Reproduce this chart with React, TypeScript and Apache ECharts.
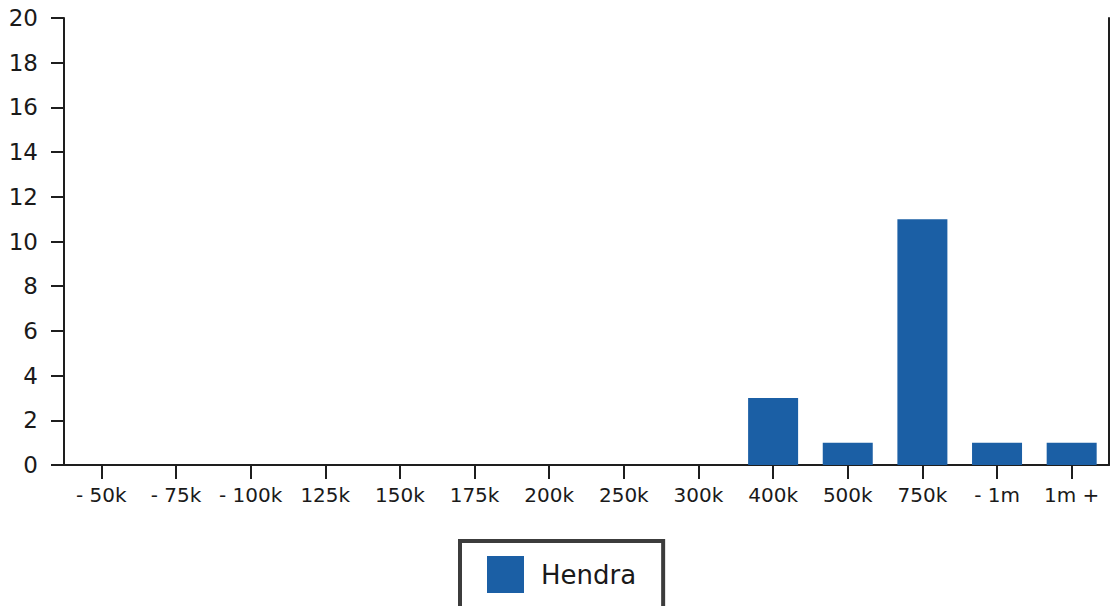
import React, { useEffect, useRef } from "react";
import * as echarts from "echarts";

const categories = [
  "- 50k", "- 75k", "- 100k", "125k", "150k", "175k", "200k",
  "250k", "300k", "400k", "500k", "750k", "- 1m", "1m +",
];
const hendra = [0, 0, 0, 0, 0, 0, 0, 0, 0, 3, 1, 11, 1, 1];
const seriesName = "Hendra";

export default function App() {
  const ref = useRef<HTMLDivElement>(null);
  useEffect(() => {
    if (!ref.current) return;
    const chart = echarts.init(ref.current, null, { renderer: "svg" });
    const font = "DejaVu Sans";
    chart.setOption({
      animation: false,
      backgroundColor: "#ffffff",
      grid: { left: 64, right: 3, top: 18, bottom: 141, containLabel: false },
      legend: {
        data: [seriesName],
        left: 460,
        top: 541,
        padding: [15, 27, 20, 27],
        backgroundColor: "#ffffff",
        borderColor: "#3c3c3c",
        borderWidth: 4,
        borderRadius: 0,
        itemWidth: 37,
        itemHeight: 37,
        icon: "rect",
        itemStyle: { borderWidth: 0 },
        textStyle: {
          fontFamily: font,
          fontSize: 26,
          color: "#1a1a1a",
          padding: [0, 0, 0, 12],
        },
        selectedMode: false,
      },
      xAxis: {
        type: "category",
        data: categories,
        boundaryGap: true,
        axisLine: { show: true, lineStyle: { color: "#1e1e1e", width: 2 } },
        axisTick: {
          show: true,
          alignWithLabel: true,
          length: 14,
          lineStyle: { color: "#1e1e1e", width: 2 },
        },
        axisLabel: {
          interval: 0,
          margin: 20,
          fontFamily: font,
          fontSize: 20,
          color: "#1a1a1a",
        },
        splitLine: { show: false },
      },
      yAxis: [
        {
          type: "value",
          min: 0,
          max: 20,
          interval: 2,
          axisLine: { show: true, lineStyle: { color: "#1e1e1e", width: 2 } },
          axisTick: { show: true, length: 13, lineStyle: { color: "#1e1e1e", width: 2 } },
          axisLabel: {
            margin: 26,
            fontFamily: font,
            fontSize: 23,
            color: "#1a1a1a",
          },
          splitLine: { show: false },
        },
        {
          type: "value",
          min: 0,
          max: 20,
          interval: 2,
          position: "right",
          axisLine: { show: true, lineStyle: { color: "#1e1e1e", width: 2 } },
          axisTick: { show: false },
          axisLabel: { show: false },
          splitLine: { show: false },
        },
      ],
      series: [
        {
          name: seriesName,
          type: "bar",
          data: hendra,
          barWidth: 50,
          itemStyle: {
            color: "#1b5fa5",
            borderWidth: 0,
          },
        },
      ],
    });
    return () => chart.dispose();
  }, []);
  return <div ref={ref} style={{ width: 1112, height: 606, position: "absolute", left: 0, top: 0 }} />;
}
